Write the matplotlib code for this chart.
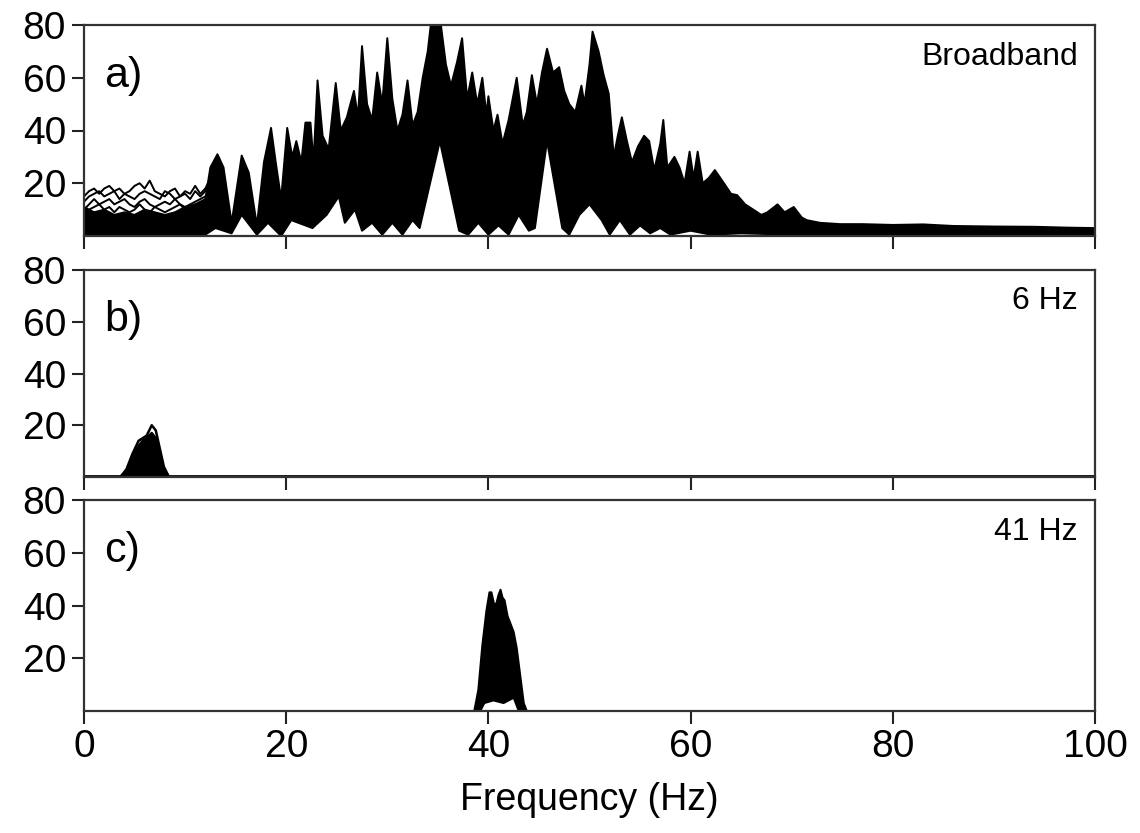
import numpy as np
import matplotlib
matplotlib.use("Agg")
import matplotlib.pyplot as plt

plt.rcParams['font.family'] = ['Liberation Sans', 'DejaVu Sans']

# --- a) broadband: upper and lower edge of the bundle of traces
freq_a_top = [0, 1, 2, 3, 4, 5, 6, 7, 8, 9, 10, 11, 12, 12.5, 13.2, 13.8, 14.6, 15.6, 16.3, 17.1,
              17.8, 18.5, 19.0, 19.5, 20.1, 20.6, 21.0, 21.5, 21.9, 22.4, 22.7, 23.1, 23.6, 24.2,
              24.9, 25.4, 26.0, 26.7, 27.1, 27.5, 28.0, 28.5, 29.0, 29.5, 30.0, 30.5, 31.0, 31.5,
              32.0, 32.5, 33.0, 33.5, 34.0, 34.3, 35.3, 35.8, 36.3, 36.9, 37.4, 37.9, 38.4, 38.9,
              39.4, 39.8, 40.0, 40.5, 40.9, 41.4, 42.0, 42.8, 43.4, 43.8, 44.3, 44.8, 45.3, 45.8,
              46.4, 47.0, 47.5, 48.0, 48.6, 49.2, 49.5, 50.0, 50.3, 50.9, 51.4, 51.9, 52.4, 52.8,
              53.2, 53.7, 54.2, 54.8, 55.4, 55.9, 56.4, 57.0, 57.3, 57.7, 58.4, 58.9, 59.4, 59.9,
              60.3, 60.7, 61.2, 61.8, 62.4, 63.3, 64.0, 64.6, 65.4, 66.2, 67.0, 67.6, 68.6, 69.3,
              70.2, 71.0, 71.5, 72.8, 74.8, 77, 80, 83, 86, 90, 94, 97, 100]
amp_a_top = [11, 9, 10, 8, 9, 8, 10, 9, 8, 9, 11, 12, 14, 26, 31, 26, 5, 30.5, 24, 4,
             28, 41, 27, 14, 41, 30, 36, 28, 43, 43, 28, 59, 38, 33,
             58, 40, 45, 55, 45, 72, 50, 44, 62, 50, 75, 52, 40, 46,
             59, 42, 47, 60, 70, 80, 80, 65, 57, 66, 75, 52, 62, 50,
             60, 46, 53, 40, 46, 35, 44, 60, 42, 47, 61, 50, 62, 71,
             62, 64, 55, 50, 47, 57, 50, 65, 77.5, 70, 61, 54, 30, 38,
             45, 36, 28, 34, 38, 36, 25, 35, 44, 26, 30, 26, 20, 32,
             22, 32, 20, 22, 25, 20, 16, 15.5, 12, 10, 8, 9, 12, 9,
             11, 7, 6, 5, 4.5, 4.5, 4.2, 4.4, 3.8, 3.6, 3.5, 3.2, 3.0]
freq_a_bot = [0, 12, 13, 14.6, 15.6, 17.1, 18.2, 19.5, 20.5, 22.6, 24, 25.2, 25.8, 26.8, 27.5,
              28.5, 29.5, 30.5, 31.5, 32.5, 33.2, 35.2, 37.1, 38, 39, 40, 41, 42, 43, 44, 44.6,
              45.8, 47.3, 48, 49, 50, 51.2, 52, 53, 54, 55, 56, 57, 58, 60, 62, 65, 70, 100]
amp_a_bot = [0.5, 0.5, 3, 1, 8, 0.5, 5, 0, 6, 3, 8, 15, 5, 10, 2,
             5, 0.5, 5, 0.5, 6, 3, 36, 2, 0.5, 5, 0.5, 4, 0.5, 8, 2, 3,
             36, 3, 0.5, 8, 12, 6, 0.5, 6, 0.5, 4, 1, 3, 0.5, 2, 0.5, 1, 0.5, 0.3]

# separate low-frequency traces that stick out above the bundle
freq_low = [0, 0.5, 1, 1.5, 2, 2.5, 3, 3.5, 4, 4.5, 5, 5.5, 6, 6.5, 7, 7.5, 8, 8.5, 9, 9.5,
            10, 10.5, 11, 11.5, 12, 12.5, 13]
low_1 = [15, 17, 18, 16, 18, 19, 17, 18, 16, 17, 19, 20, 18, 21, 17, 16, 15, 17, 18, 15,
         17, 16, 19, 16, 18, 22, 28]
low_2 = [13, 15, 16, 17, 15, 16, 17, 14, 16, 15, 14, 16, 17, 16, 15, 14, 17, 16, 14, 15,
         16, 14, 17, 15, 17, 20, 26]
low_3 = [10, 12, 14, 12, 13, 14, 12, 13, 14, 12, 11, 13, 14, 12, 11, 12, 13, 12, 14, 12,
         11, 12, 13, 14, 15, 18, 24]
low_4 = [8, 10, 11, 12, 10, 11, 9, 11, 10, 9, 10, 12, 10, 9, 11, 10, 9, 10, 11, 12,
         10, 11, 12, 11, 13, 16, 22]

# --- b) 6 Hz band
freq_b = [0, 3.6, 4.2, 4.8, 5.4, 5.8, 6.2, 6.7, 7.1, 7.5, 7.9, 8.4, 100]
traces_b = [
    [0, 0, 3, 9, 14, 15, 16, 20, 18, 11, 4, 0, 0],
    [0, 0, 2, 8, 12, 14, 15, 17, 15, 9, 3, 0, 0],
    [0, 0, 2, 7, 11, 12, 14, 15, 13, 8, 3, 0, 0],
    [0, 0, 1, 6, 9, 11, 12, 13, 12, 7, 2, 0, 0],
    [0, 0, 1, 5, 8, 9, 10, 11, 10, 6, 2, 0, 0],
    [0, 0, 1, 4, 6, 7, 8, 9, 8, 5, 1, 0, 0],
    [0, 0, 1, 3, 5, 6, 6, 7, 6, 4, 1, 0, 0],
]

# --- c) 41 Hz band
freq_c_top = [0, 38.6, 39.0, 39.4, 39.8, 40.1, 40.3, 40.6, 40.8, 41.0, 41.2, 41.4, 41.6,
              41.9, 42.2, 42.5, 42.8, 43.1, 43.5, 43.8, 100]
amp_c_top = [0, 0, 8, 25, 38, 45, 45, 40, 41, 44, 46, 43, 42,
             36, 33, 30, 24, 15, 3, 0, 0]
freq_c_bot = [0, 39.2, 39.6, 40.5, 41.5, 42.5, 43.0, 100]
amp_c_bot = [0, 0, 3, 4, 3, 5, 0, 0]

panel_letters = ['a)', 'b)', 'c)']
panel_notes = ['Broadband', '6 Hz', '41 Hz']
xticks = [0, 20, 40, 60, 80, 100]
yticks = [20, 40, 60, 80]

W, H = 1140, 833
fig = plt.figure(figsize=(W / 100, H / 100), dpi=100)
boxes = [(25, 236), (270, 477), (500, 711)]
left, right = 84, 1095
axes = []
for top, bot in boxes:
    ax = fig.add_axes([left / W, 1 - bot / H, (right - left) / W, (bot - top) / H])
    axes.append(ax)

lc = 'black'
lw = 1.4

# a)
ax = axes[0]
ax.fill(np.concatenate([freq_a_top, freq_a_bot[::-1]]),
        np.concatenate([amp_a_top, amp_a_bot[::-1]]), color=lc, lw=0)
ax.plot(freq_a_top, amp_a_top, color=lc, lw=lw)
ax.plot(freq_a_bot, amp_a_bot, color=lc, lw=lw)
for tr in [low_1, low_2, low_3, low_4]:
    ax.plot(freq_low, tr, color=lc, lw=lw)

# b)
ax = axes[1]
ax.fill(freq_b, traces_b[1], color=lc, lw=0)
for tr in traces_b:
    ax.plot(freq_b, tr, color=lc, lw=1.8)

# c)
ax = axes[2]
ax.fill(np.concatenate([freq_c_top, freq_c_bot[::-1]]),
        np.concatenate([amp_c_top, amp_c_bot[::-1]]), color=lc, lw=0)
ax.plot(freq_c_top, amp_c_top, color=lc, lw=lw)
ax.plot(freq_c_bot, amp_c_bot, color=lc, lw=lw)

for i, ax in enumerate(axes):
    ax.set_xlim(0, 100)
    ax.set_ylim(0, 80)
    ax.set_xticks(xticks)
    ax.set_yticks(yticks)
    ax.tick_params(direction='out', length=9, width=1.5, labelsize=28, pad=4, color='#222222')
    for s in ax.spines.values():
        s.set_linewidth(1.6)
        s.set_color('#333333')
    if i < 2:
        ax.set_xticklabels([])
    ax.text(0.02, 0.76, panel_letters[i], transform=ax.transAxes, fontsize=31,
            ha='left', va='center')
    ax.text(0.983, 0.85, panel_notes[i], transform=ax.transAxes, fontsize=23,
            ha='right', va='center')

axes[2].set_xlabel('Frequency (Hz)', fontsize=27, labelpad=12)

fig.savefig('out.png', dpi=100)
